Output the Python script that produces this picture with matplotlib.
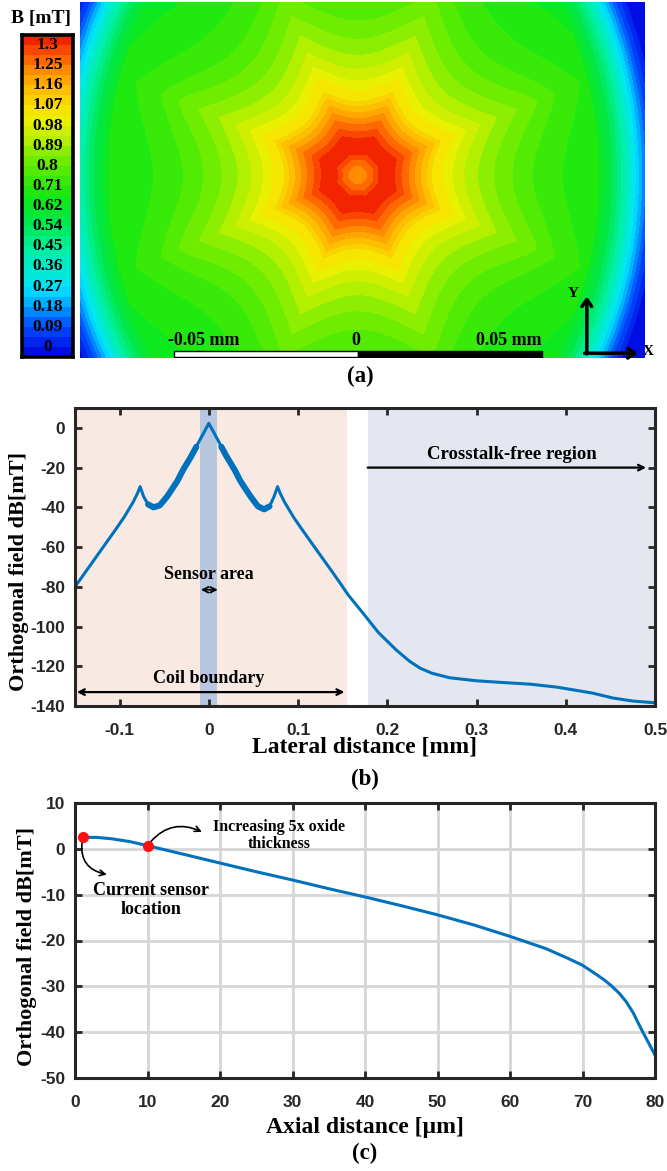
import numpy as np
import matplotlib.pyplot as plt
from matplotlib.colors import LinearSegmentedColormap

plt.rcParams['font.family'] = 'Liberation Serif'
plt.rcParams['font.weight'] = 'bold'
plt.rcParams['axes.unicode_minus'] = False

W, H = 667, 1171

# ---------------- (a) field map (radius in um, B in mT)
cb_labels = ['0', '0.09', '0.18', '0.27', '0.36', '0.45', '0.54', '0.62',
             '0.71', '0.8', '0.89', '0.98', '1.07', '1.16', '1.25', '1.3']
b_max = 1.3
n_bands = 32
# B along a star valley, centre outwards
core_r = [0, 2.2, 3.3, 4.9, 6.0, 9.2, 10.8, 12.5, 13.6, 15.2, 16.8, 18.5, 20.1, 23.4, 25.8, 29.9, 34.8,
          40.8, 47.6, 55.7, 65.2, 72]
core_b = [1.16, 1.17, 1.2, 1.23, 1.275, 1.275, 1.24, 1.2, 1.18, 1.14, 1.10, 1.06, 1.01, 0.97, 0.93,
          0.88, 0.83, 0.78, 0.73, 0.69, 0.66, 0.63]
# depth of the 8 star points
star_r = [0, 10, 25, 50, 65, 80]
star_a = [0.03, 0.06, 0.10, 0.12, 0.08, 0.0]
# fall-off towards the frame edge (elliptic distance: left, right and vertical half-axes in um)
edge_ax = (77.4, 74.5, 95.7)
edge_d = [0.82, 0.88, 0.93, 0.97, 1.0, 1.03, 1.06, 1.1]
edge_b = [1.3, 0.62, 0.52, 0.42, 0.32, 0.22, 0.12, 0.02]

# ---------------- (b) lateral profile
lat_x = [-0.15, -0.135, -0.12, -0.105, -0.095, -0.085, -0.08, -0.077, -0.073, -0.068, -0.062, -0.055,
         -0.047, -0.04, -0.035, -0.029, -0.02, -0.014, -0.01, -0.006, 0.0,
         0.006, 0.01, 0.014, 0.02, 0.029, 0.035, 0.04, 0.047, 0.055, 0.062, 0.068, 0.073,
         0.077, 0.08, 0.085, 0.095, 0.105, 0.12, 0.136, 0.15, 0.156, 0.173, 0.19, 0.21, 0.225,
         0.237, 0.25, 0.27, 0.3, 0.33, 0.36, 0.39, 0.41, 0.43, 0.453, 0.475, 0.5]
lat_y = [-80, -70.5, -61, -51.5, -45, -37.5, -33, -29.6, -34.7, -38.5, -40.0, -39.0,
         -34.7, -30, -26.5, -21.2, -14.5, -9.5, -6, -2.7, 2.3,
         -2.7, -6, -9.5, -14.5, -21.2, -26.5, -30, -34.7, -39.5, -41.0, -39.5, -34.7,
         -29.6, -33, -37.5, -45, -51.5, -61, -71, -80, -84, -93.4, -103, -111.8, -117.5,
         -121, -123.5, -125.8, -127.3, -128.2, -129, -130.5, -132, -133.5, -136, -137.5, -138.4]

# ---------------- (c) axial profile
ax_x = [1.1, 3, 5, 7.5, 10, 15, 20, 25, 30, 35, 40, 45, 50, 55, 60, 65, 68, 70, 72, 73, 74, 75,
        76, 77, 78, 79, 80]
ax_y = [2.5, 2.5, 2.2, 1.6, 0.7, -1.2, -3.1, -5.0, -6.8, -8.7, -10.5, -12.4, -14.4, -16.6, -19.1,
        -21.8, -23.9, -25.4, -27.5, -28.6, -29.9, -31.4, -33.3, -35.8, -39.0, -42.0, -45]
dot_x = [1.1, 10]
dot_y = [2.5, 0.7]


def box(l, t, r, b):
    return [l / W, 1 - b / H, (r - l) / W, (b - t) / H]


cmap = LinearSegmentedColormap.from_list('field', [
    (0.0, '#0000E0'), (0.1, '#0050FF'), (0.21, '#00E4FF'), (0.33, '#00F0A8'),
    (0.42, '#00E848'), (0.5, '#12E812'), (0.6, '#62EC00'), (0.68, '#B8F000'),
    (0.75, '#F4F000'), (0.85, '#FFB400'), (0.93, '#FF6400'), (1.0, '#F01800')])

fig = plt.figure(figsize=(W / 100, H / 100), dpi=100)

# ---- (a)
ax_a = fig.add_axes(box(80, 2, 645, 358))
x = np.linspace(-75.5, 78.0, 560)
y = np.linspace(-49.7, 47.0, 360)
X, Y = np.meshgrid(x, y)
R = np.hypot(X, Y)
T = np.arctan2(Y, X)
a = np.interp(R, star_r, star_a)
shape = 1 + a * (2 * np.abs(np.sin(4 * (T - np.pi / 8))) - 1)
Reff = R * shape / (1 + a)
D = np.hypot(X / np.where(X < 0, edge_ax[0], edge_ax[1]), Y / edge_ax[2])
B = np.minimum(np.interp(Reff, core_r, core_b), np.interp(D, edge_d, edge_b))
levels = np.linspace(0, b_max, n_bands + 1)
ax_a.contourf(X, Y, B, levels=levels, cmap=cmap, vmin=0, vmax=b_max)
ax_a.set_xlim(-75.5, 78.0)
ax_a.set_ylim(-49.7, 47.0)
ax_a.axis('off')

# scale bar
ax_a.add_patch(plt.Rectangle((-50, -49.5), 50, 1.7, facecolor='white', edgecolor='black', lw=1))
ax_a.add_patch(plt.Rectangle((0, -49.5), 50, 1.7, facecolor='black', edgecolor='black', lw=1))
ax_a.text(-51.5, -47.2, '-0.05 mm', ha='left', va='bottom', fontsize=13)
ax_a.text(-0.5, -47.2, '0', ha='center', va='bottom', fontsize=13)
ax_a.text(50, -47.2, '0.05 mm', ha='right', va='bottom', fontsize=13)
# axes glyph
ax_a.annotate('', xy=(62.2, -33.0), xytext=(62.2, -48.6),
              arrowprops=dict(arrowstyle='->,head_length=0.5,head_width=0.35', lw=2.5, color='black',
                              shrinkA=0, shrinkB=0))
ax_a.annotate('', xy=(76.0, -48.4), xytext=(61.6, -48.4),
              arrowprops=dict(arrowstyle='->,head_length=0.5,head_width=0.35', lw=2.5, color='black',
                              shrinkA=0, shrinkB=0))
ax_a.text(58.4, -32.3, 'Y', ha='center', va='center', fontsize=11)
ax_a.text(79.0, -47.8, 'X', ha='center', va='center', fontsize=11, clip_on=False)

# colour bar
ax_cb = fig.add_axes(box(22, 35, 73, 357))
mids = (levels[:-1] + levels[1:]) / 2
ax_cb.imshow(mids[:, None], cmap=cmap, vmin=0, vmax=b_max, origin='lower', aspect='auto',
             extent=(0, 1, 0, n_bands))
for i, lab in enumerate(cb_labels):
    ax_cb.text(0.5, 2 * i + 1, lab, ha='center', va='center', fontsize=12.5)
ax_cb.set_xticks([])
ax_cb.set_yticks([])
for s in ax_cb.spines.values():
    s.set_linewidth(2.6)
    s.set_color('black')
fig.text(41 / W, 1 - 18 / H, 'B [mT]', ha='center', va='center', fontsize=14)
fig.text(360 / W, 1 - 376 / H, '(a)', ha='center', va='center', fontsize=16.5)


def style(ax):
    for s in ax.spines.values():
        s.set_linewidth(2.2)
        s.set_color('#262626')
    ax.tick_params(direction='in', length=5, width=2, colors='#262626', top=True, right=True, pad=12)
    ax.tick_params(axis='y', pad=7)
    for lab in ax.get_xticklabels() + ax.get_yticklabels():
        lab.set_family('Liberation Sans')
        lab.set_weight('bold')
        lab.set_fontsize(12.5)


# ---- (b)
ax_b = fig.add_axes(box(75, 408, 655, 706))
ax_b.axvspan(-0.15, 0.1545, color='#F8EAE3', lw=0)
ax_b.axvspan(0.178, 0.5, color='#E4E7EF', lw=0)
ax_b.axvspan(-0.0095, 0.0095, color='#B8C7E0', lw=0)
lx = np.array(lat_x)
ly = np.array(lat_y)
ax_b.plot(lx, ly, color='#0072BD', lw=2.2)
rip = (np.abs(lx) >= 0.013) & (np.abs(lx) <= 0.068)
for side in (lx < 0, lx > 0):
    m = rip & side
    ax_b.plot(lx[m], ly[m], color='#0072BD', lw=4.4, solid_capstyle='round')
ax_b.set_xlim(-0.15, 0.5)
ax_b.set_ylim(-140, 10)
ax_b.set_xticks([-0.1, 0, 0.1, 0.2, 0.3, 0.4, 0.5])
ax_b.set_xticklabels(['-0.1', '0', '0.1', '0.2', '0.3', '0.4', '0.5'])
ax_b.set_yticks(range(-140, 1, 20))
style(ax_b)
ax_b.text(0.0, -74, 'Sensor area', ha='center', va='center', fontsize=13)
ax_b.annotate('', xy=(-0.009, -81.5), xytext=(0.010, -81.5),
              arrowprops=dict(arrowstyle='<->', lw=1.3, color='black', shrinkA=0, shrinkB=0))
ax_b.text(0.0, -126, 'Coil boundary', ha='center', va='center', fontsize=13)
ax_b.annotate('', xy=(-0.148, -133), xytext=(0.152, -133),
              arrowprops=dict(arrowstyle='<->', lw=1.6, color='black', shrinkA=0, shrinkB=0))
ax_b.text(0.34, -13.5, 'Crosstalk-free region', ha='center', va='center', fontsize=13.5)
ax_b.annotate('', xy=(0.490, -20), xytext=(0.178, -20),
              arrowprops=dict(arrowstyle='->', lw=1.6, color='black', shrinkA=0, shrinkB=0))
fig.text(365 / W, 1 - 747 / H, 'Lateral distance [mm]', ha='center', va='center', fontsize=17)
fig.text(19 / W, 1 - 572 / H, 'Orthogonal field dB[mT]', ha='center', va='center', fontsize=16,
         rotation=90)
fig.text(365 / W, 1 - 779 / H, '(b)', ha='center', va='center', fontsize=16.5)

# ---- (c)
ax_c = fig.add_axes(box(75, 803, 655, 1078))
ax_c.grid(True, color='#D6D6D6', lw=2)
ax_c.set_axisbelow(True)
ax_c.plot(ax_x, ax_y, color='#0072BD', lw=2.2)
ax_c.plot(dot_x, dot_y, 'o', color='#FF1010', ms=7, zorder=5)
ax_c.set_xlim(0, 80)
ax_c.set_ylim(-50, 10)
ax_c.set_xticks(range(0, 81, 10))
ax_c.set_yticks(range(-50, 11, 10))
style(ax_c)
ax_c.annotate('', xy=(4.4, -5.6), xytext=(dot_x[0], dot_y[0]),
              arrowprops=dict(arrowstyle='->', lw=1.2, color='black', shrinkA=4, shrinkB=0,
                              connectionstyle='arc3,rad=0.5'))
ax_c.annotate('', xy=(17.5, 3.7), xytext=(dot_x[1], dot_y[1]),
              arrowprops=dict(arrowstyle='->', lw=1.2, color='black', shrinkA=4, shrinkB=0,
                              connectionstyle='arc3,rad=-0.4'))
ax_c.text(28.2, 2.9, 'Increasing 5x oxide\nthickness', ha='center', va='center', fontsize=11.5,
          linespacing=1.1)
ax_c.text(10.5, -11.2, 'Current sensor\nlocation', ha='center', va='center', fontsize=13,
          linespacing=1.15)
fig.text(365 / W, 1 - 1128 / H, 'Axial distance [\u00b5m]', ha='center', va='center', fontsize=17)
fig.text(27 / W, 1 - 947 / H, 'Orthogonal field dB[mT]', ha='center', va='center', fontsize=16,
         rotation=90)
fig.text(365 / W, 1 - 1153 / H, '(c)', ha='center', va='center', fontsize=16.5)

fig.savefig('out.png', dpi=100)
